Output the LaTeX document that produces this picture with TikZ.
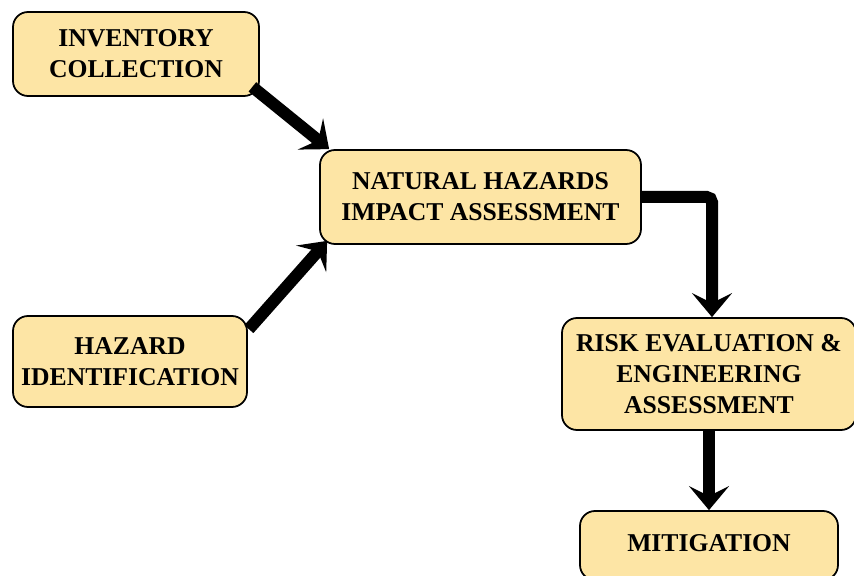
\documentclass[tikz,border=0pt]{standalone}
\usepackage{fontspec}
\setmainfont{Liberation Serif}
\usetikzlibrary{arrows.meta}
\definecolor{boxfill}{RGB}{253,229,165}
\tikzset{
    stepbox/.style={draw, line width=1pt, rounded corners=0.3cm, fill=boxfill,
        font=\bfseries\fontsize{14.6}{17.6}\selectfont, align=center, inner sep=0pt},
    flow/.style={line width=0.24cm, -{Stealth[length=0.48cm,width=0.8cm,inset=0.2cm]}}
}
\begin{document}
\begin{tikzpicture}
    \useasboundingbox (0,0) rectangle (17.08,-11.52);
    \node[stepbox, minimum width=4.92cm, minimum height=1.68cm] (inv) at (2.72,-1.08) {INVENTORY\\COLLECTION};
    \node[stepbox, minimum width=6.42cm, minimum height=1.88cm] (nat) at (9.61,-3.94) {NATURAL HAZARDS\\IMPACT ASSESSMENT\hspace{0.25cm}};
    \node[stepbox, minimum width=5.88cm, minimum height=2.24cm] (risk) at (14.18,-7.48) {RISK EVALUATION \&\\ENGINEERING\\ASSESSMENT};
    \node[stepbox, minimum width=4.68cm, minimum height=1.82cm] (haz) at (2.6,-7.23) {HAZARD\\IDENTIFICATION};
    \node[stepbox, minimum width=5.16cm, minimum height=1.38cm] (mit) at (14.18,-10.91) {\raisebox{0.08cm}{MITIGATION}};
    % connectors
    \draw[flow] ([shift={(-0.15,0.2)}]inv.south east) -- ([shift={(0.2,0)}]nat.north west);
    \draw[flow] ([shift={(0.02,-0.28)}]haz.north east) -- ([shift={(0.16,0.08)}]nat.south west);
    \draw[flow, rounded corners=3pt] (nat.east) -| ([xshift=0.06cm]risk.north);
    \draw[flow] (risk.south) -- (mit.north);
\end{tikzpicture}
\end{document}
